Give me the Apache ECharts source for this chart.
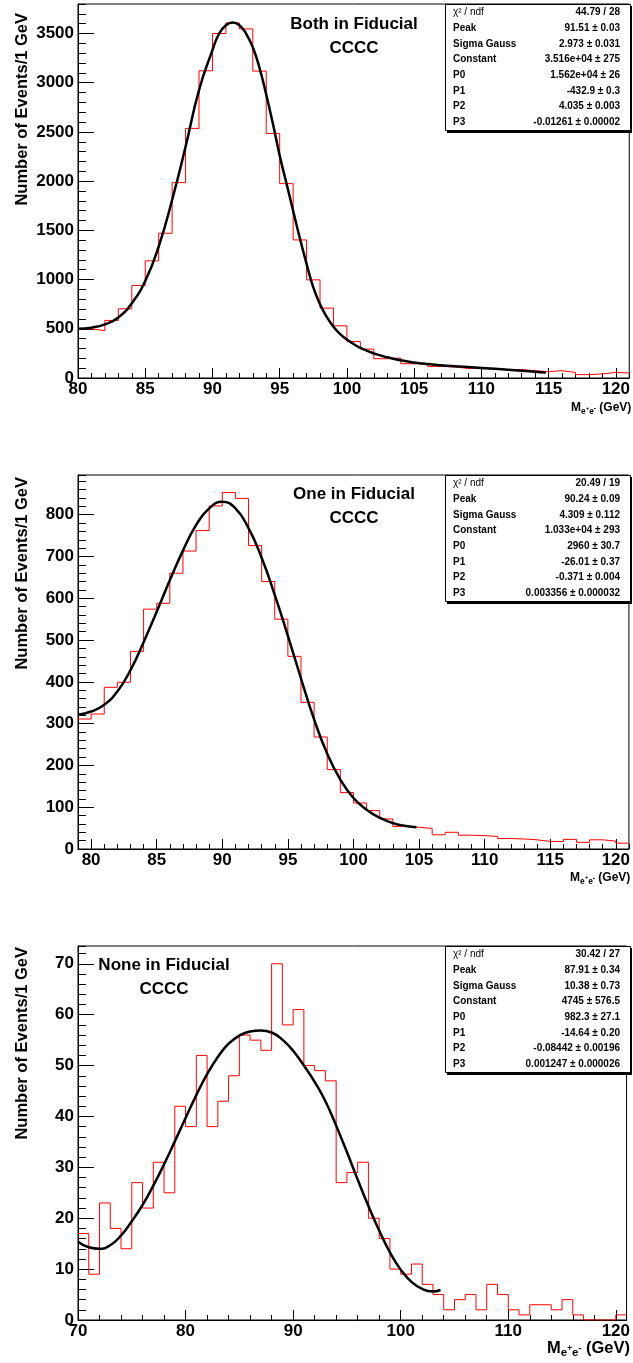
<!DOCTYPE html>
<html>
<head>
<meta charset="utf-8">
<script src="https://cdn.jsdelivr.net/npm/echarts@6/dist/echarts.min.js"></script>
<style>html,body{margin:0;padding:0;background:#fff}#c{width:633px;height:1363px}</style>
</head>
<body>
<div id="c"></div>
<script>
// ---------------- DATA ----------------
// Panel 1: Both in Fiducial (1 GeV bins starting at 80)
const hist1Start = 80;
const hist1Counts = [500, 480, 585, 703, 940, 1190, 1471, 1985, 2536, 3121, 3500, 3608, 3547, 3118, 2485, 1975, 1403, 997, 710, 530, 371, 294, 196, 203, 145, 142, 118, 112, 98, 98, 91, 85, 85, 74, 64, 74, 57, 34, 41, 57, 51];
const fit1 = [[80,500],[81,512],[82,545],[83,615],[84,760],[85,985],[86,1336],[87,1809],[88,2350],[89,2925],[90,3331],[90.5,3500],[91,3585],[91.5,3612],[92,3585],[92.5,3500],[93,3360],[93.5,3150],[94,2880],[94.5,2580],[95,2260],[95.5,1980],[96,1700],[96.5,1420],[97,1160],[97.5,920],[98,750],[98.5,620],[99,520],[99.5,445],[100,390],[100.5,345],[101,305],[102,250],[103,210],[104,180],[105,158],[106,142],[107,130],[108,120],[110,102],[112,84],[114,64],[114.8,55]];
const x1Ticks = [80, 85, 90, 95, 100, 105, 110, 115, 120];
const y1Ticks = [0, 500, 1000, 1500, 2000, 2500, 3000, 3500];

// Panel 2: One in Fiducial (1 GeV bins starting at 79)
const hist2Start = 79;
const hist2Counts = [311, 323, 387, 399, 473, 574, 588, 660, 713, 762, 821, 853, 839, 726, 640, 550, 461, 351, 268, 190, 135, 110, 92, 72, 54, 52, 49, 34, 40, 33, 32, 30, 25, 24, 22, 18, 18, 23, 16, 22, 19, 14];
const fit2 = [[79,321],[80,329],[81,345],[82,377],[83,428],[84,495],[85,568],[86,643],[87,714],[88,775],[89,815],[90,831],[91,815],[92,768],[93,697],[94,608],[95,510],[96,408],[97,310],[98,228],[99,166],[100,122],[101,94],[102,75],[103,62],[104,55],[104.8,52]];
const x2Ticks = [80, 85, 90, 95, 100, 105, 110, 115, 120];
const y2Ticks = [0, 100, 200, 300, 400, 500, 600, 700, 800];

// Panel 3: None in Fiducial (1 GeV bins starting at 70)
const hist3Start = 70;
const hist3Counts = [17, 9, 23, 18, 14, 27, 22, 31, 25, 42, 38, 52, 38, 43, 48, 56, 55, 53, 70, 58, 61, 50, 49, 47, 27, 29, 31, 20, 16, 10, 9, 11, 7, 5, 2, 4, 5, 2, 7, 5, 2, 1, 3, 3, 2, 4, 1, 0, 0, 0, 1];
const fit3 = [[70,15.4],[71,14.3],[72,14],[73,14.7],[74,16.6],[75,19.4],[76,22.6],[77,26.4],[78,30.6],[79,35.1],[80,39.7],[81,44.2],[82,48.3],[83,51.7],[84,54.3],[85,55.9],[86,56.7],[87,56.9],[88,56.5],[89,55.1],[90,52.9],[91,50],[92,46.8],[93,43],[94,38.2],[95,33],[96,27.6],[97,22.4],[98,17.6],[99,13.3],[100,9.9],[101,7.5],[102,6.1],[103,5.6],[103.7,5.9]];
const x3Ticks = [70, 80, 90, 100, 110, 120];
const y3Ticks = [0, 10, 20, 30, 40, 50, 60, 70];

// Texts
const titles = [['Both in Fiducial', 'CCCC'], ['One in Fiducial', 'CCCC'], ['None in Fiducial', 'CCCC']];
const statLabels = ['\u03c7\u00b2 / ndf', 'Peak', 'Sigma Gauss', 'Constant', 'P0', 'P1', 'P2', 'P3'];
const stats1Values = ['44.79 / 28', '91.51 \u00b1 0.03', '2.973 \u00b1 0.031', '3.516e+04 \u00b1 275', '1.562e+04 \u00b1 26', '-432.9 \u00b1 0.3', '4.035 \u00b1 0.003', '-0.01261 \u00b1 0.00002'];
const stats2Values = ['20.49 / 19', '90.24 \u00b1 0.09', '4.309 \u00b1 0.112', '1.033e+04 \u00b1 293', '2960 \u00b1 30.7', '-26.01 \u00b1 0.37', '-0.371 \u00b1 0.004', '0.003356 \u00b1 0.000032'];
const stats3Values = ['30.42 / 27', '87.91 \u00b1 0.34', '10.38 \u00b1 0.73', '4745 \u00b1 576.5', '982.3 \u00b1 27.1', '-14.64 \u00b1 0.20', '-0.08442 \u00b1 0.00196', '0.001247 \u00b1 0.000026'];
const yTitle = 'Number of Events/1 GeV';

// ---------------- LAYOUT ----------------
const FONT = '"Liberation Sans", Arial, Helvetica, sans-serif';
const panels = [
  { top: 4,   xMin: 80, xMax: 121, xTicks: x1Ticks, xMinor: 1, yMax: 3800, yTicks: y1Ticks, yMinor: 100,
    hist: [hist1Start, hist1Counts], fit: fit1, stats: stats1Values,
    titlePos: [354, 24, 48], yTitleY: 13, xTitle: [571, 408, 12] },
  { top: 475, xMin: 79, xMax: 121, xTicks: x2Ticks, xMinor: 1, yMax: 895, yTicks: y2Ticks, yMinor: 20,
    hist: [hist2Start, hist2Counts], fit: fit2, stats: stats2Values,
    titlePos: [354, 494, 518], yTitleY: 477, xTitle: [570, 877.5, 12] },
  { top: 946, xMin: 70, xMax: 121, xTicks: x3Ticks, xMinor: 2, yMax: 73.5, yTicks: y3Ticks, yMinor: 2,
    hist: [hist3Start, hist3Counts], fit: fit3, stats: stats3Values,
    titlePos: [164, 965, 989], yTitleY: 947, xTitle: [547, 1348, 16.5] }
];

const grids = [], xAxes = [], yAxes = [], series = [], graphics = [];
const measureCtx = document.createElement('canvas').getContext('2d');

function xTitleEls(x0, yc, f) {
  const parts = [['M', 1, 0], ['e', 0.7, 0.32], ['+', 0.5, 0.02], ['e', 0.7, 0.32], ['-', 0.55, 0.02], [' (GeV)', 1, 0]];
  let x = x0;
  const els = [];
  for (const [t, s, dy] of parts) {
    const fs = f * s;
    measureCtx.font = 'bold ' + fs + 'px ' + FONT;
    els.push({ type: 'text', x: x, y: yc + dy * f, z: 100,
      style: { text: t, fontSize: fs, fontWeight: 'bold', fontFamily: FONT, fill: '#000', align: 'left', verticalAlign: 'middle' } });
    x += measureCtx.measureText(t).width;
  }
  return els;
}

panels.forEach((p, g) => {
  grids.push({ left: 78, top: p.top, width: 554, height: 374, show: true, borderColor: '#000', borderWidth: 1, backgroundColor: 'transparent' });
  const labelStyle = { color: '#000', fontSize: 17, fontWeight: 'bold', fontFamily: FONT, formatter: v => String(v) };
  xAxes.push({
    type: 'value', gridIndex: g, position: 'bottom', min: p.xMin, max: p.xMax,
    axisLine: { show: true, onZero: false, lineStyle: { color: '#000', width: 1 } },
    axisTick: { show: true, inside: true, length: 10, customValues: p.xTicks, lineStyle: { color: '#000', width: 1 } },
    axisLabel: Object.assign({ show: true, margin: 3, customValues: p.xTicks }, labelStyle),
    splitLine: { show: false }
  });
  xAxes.push({
    type: 'value', gridIndex: g, position: 'bottom', min: p.xMin, max: p.xMax, interval: p.xMinor,
    axisLine: { show: false, onZero: false },
    axisTick: { show: true, inside: true, length: 5, lineStyle: { color: '#000', width: 1 } },
    axisLabel: { show: false }, splitLine: { show: false }
  });
  yAxes.push({
    type: 'value', gridIndex: g, position: 'left', min: 0, max: p.yMax,
    axisLine: { show: true, onZero: false, lineStyle: { color: '#000', width: 1 } },
    axisTick: { show: true, inside: true, length: 16, customValues: p.yTicks, lineStyle: { color: '#000', width: 1 } },
    axisLabel: Object.assign({ show: true, margin: 4, customValues: p.yTicks }, labelStyle),
    splitLine: { show: false }
  });
  yAxes.push({
    type: 'value', gridIndex: g, position: 'left', min: 0, max: p.yMax, interval: p.yMinor,
    axisLine: { show: false, onZero: false },
    axisTick: { show: true, inside: true, length: 8, lineStyle: { color: '#000', width: 1 } },
    axisLabel: { show: false }, splitLine: { show: false }
  });

  const [start, counts] = p.hist;
  const histData = counts.map((v, i) => [start + i, v]);
  histData.push([start + counts.length, counts[counts.length - 1]]);
  series.push({
    type: 'line', xAxisIndex: 2 * g, yAxisIndex: 2 * g, data: histData, step: 'end',
    symbol: 'none', silent: true, animation: false, z: 2,
    lineStyle: { color: '#ff0000', width: 1 }, itemStyle: { color: '#ff0000' }
  });
  series.push({
    type: 'line', xAxisIndex: 2 * g, yAxisIndex: 2 * g, data: p.fit, smooth: 0.5,
    symbol: 'none', silent: true, animation: false, z: 3,
    lineStyle: { color: '#000', width: 2.5 }, itemStyle: { color: '#000' }
  });

  // titles
  const [tx, ty1, ty2] = p.titlePos;
  graphics.push({ type: 'text', x: tx, y: ty1, z: 100, style: { text: titles[g][0], fontSize: 17, fontWeight: 'bold', fontFamily: FONT, fill: '#000', align: 'center', verticalAlign: 'middle' } });
  graphics.push({ type: 'text', x: tx, y: ty2, z: 100, style: { text: titles[g][1], fontSize: 17, fontWeight: 'bold', fontFamily: FONT, fill: '#000', align: 'center', verticalAlign: 'middle' } });

  // y title
  graphics.push({ type: 'text', x: 22, y: p.yTitleY, rotation: Math.PI / 2, z: 100,
    style: { text: yTitle, fontSize: 16.5, fontWeight: 'bold', fontFamily: FONT, fill: '#000', align: 'right', verticalAlign: 'middle' } });

  // x title
  xTitleEls(p.xTitle[0], p.xTitle[1], p.xTitle[2]).forEach(e => graphics.push(e));

  // stats box
  const bt = p.top;
  graphics.push({ type: 'rect', z: 98, shape: { x: 447, y: bt + 2, width: 185, height: 127 }, style: { fill: '#000' } });
  graphics.push({ type: 'rect', z: 99, shape: { x: 445.5, y: bt + 0.5, width: 185, height: 126 }, style: { fill: '#fff', stroke: '#000', lineWidth: 1 } });
  statLabels.forEach((lab, i) => {
    const yy = bt + 8.5 + i * 15.7;
    graphics.push({ type: 'text', x: 453, y: yy, z: 100, style: { text: lab, fontSize: 10, fontWeight: i === 0 ? 'normal' : 'bold', fontFamily: FONT, fill: '#000', align: 'left', verticalAlign: 'middle' } });
    graphics.push({ type: 'text', x: 620, y: yy, z: 100, style: { text: p.stats[i], fontSize: 10, fontWeight: 'bold', fontFamily: FONT, fill: '#000', align: 'right', verticalAlign: 'middle' } });
  });
});

const chart = echarts.init(document.getElementById('c'), null, { renderer: 'canvas' });
chart.setOption({
  animation: false,
  backgroundColor: '#fff',
  grid: grids,
  xAxis: xAxes,
  yAxis: yAxes,
  series: series,
  graphic: { elements: graphics }
});
</script>
</body>
</html>
